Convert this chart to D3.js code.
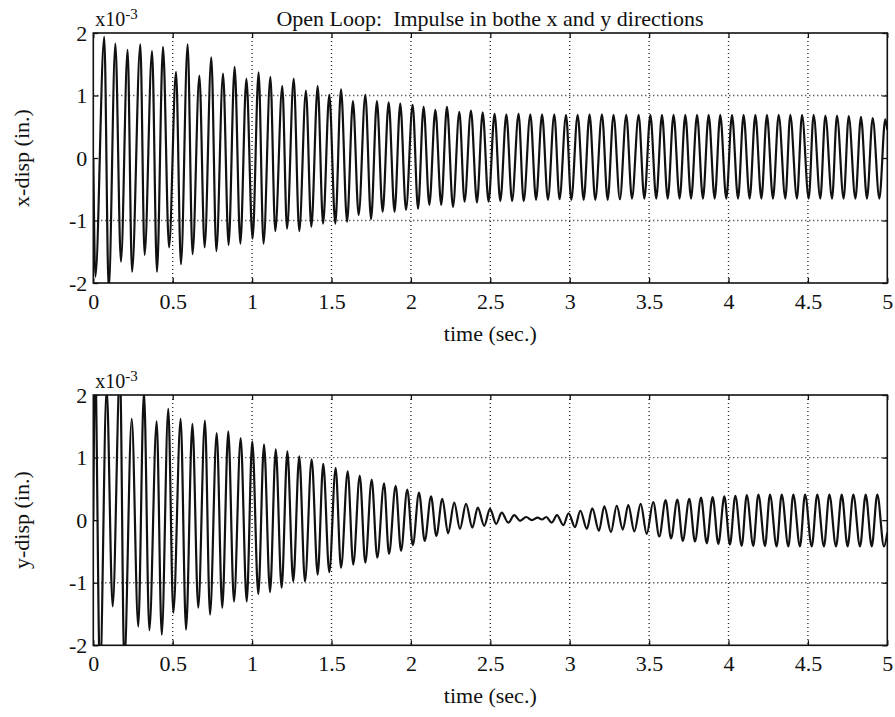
<!DOCTYPE html>
<html>
<head>
<meta charset="utf-8">
<script src="https://cdn.jsdelivr.net/npm/d3@7"></script>
<style>
  body { margin: 0; background: #fff; }
  svg { display: block; font-family: "Liberation Serif", "Times New Roman", serif; }
</style>
</head>
<body>
<svg id="chart" width="895" height="717"></svg>
<script>
// tick values and labels
const timeTicks = [0, 0.5, 1, 1.5, 2, 2.5, 3, 3.5, 4, 4.5, 5];
const dispTicks = [-2, -1, 0, 1, 2];
const chartTitle = "Open Loop:  Impulse in bothe x and y directions";
const timeLabel = "time (sec.)";

// signal extrema: [time (s), displacement (x10^-3 in.)]
const xDispPeaks = [
  [0.000, 0.00], [0.013, -1.90], [0.069, 1.94], [0.097, -2.10], [0.139, 1.83], [0.174, -1.66],
  [0.216, 1.73], [0.244, -1.82], [0.296, 1.82], [0.323, -1.55], [0.370, 1.71], [0.401, -1.82],
  [0.439, 1.78], [0.477, -1.43], [0.521, 1.38], [0.552, -1.70], [0.594, 1.82], [0.625, -1.54],
  [0.668, 1.32], [0.701, -1.43], [0.743, 1.61], [0.775, -1.49], [0.817, 1.35], [0.852, -1.39],
  [0.890, 1.46], [0.926, -1.37], [0.964, 1.27], [1.003, -1.29], [1.041, 1.37], [1.072, -1.37],
  [1.115, 1.30], [1.146, -1.17], [1.190, 1.15], [1.220, -1.13], [1.262, 1.27], [1.297, -1.17],
  [1.339, 1.08], [1.373, -1.10], [1.413, 1.15], [1.447, -1.05], [1.486, 1.01], [1.524, -1.05],
  [1.560, 1.10], [1.598, -1.02], [1.635, 0.91], [1.671, -0.91], [1.713, 1.01], [1.749, -0.98],
  [1.786, 0.91], [1.822, -0.86], [1.860, 0.89], [1.897, -0.86], [1.933, 0.87], [1.969, -0.83],
  [2.011, 0.85], [2.045, -0.81], [2.080, 0.82], [2.116, -0.75], [2.154, 0.77], [2.191, -0.75],
  [2.227, 0.82], [2.265, -0.78], [2.305, 0.74], [2.338, -0.70], [2.378, 0.76], [2.416, -0.71],
  [2.452, 0.73], [2.489, -0.70], [2.527, 0.71], [2.563, -0.69], [2.601, 0.70], [2.637, -0.69],
  [2.678, 0.71], [2.710, -0.69], [2.752, 0.70], [2.788, -0.67], [2.826, 0.70], [2.863, -0.67],
  [2.903, 0.70], [2.936, -0.66], [2.977, 0.69], [3.010, -0.67], [3.050, 0.69], [3.088, -0.67],
  [3.125, 0.70], [3.161, -0.67], [3.203, 0.70], [3.239, -0.67], [3.276, 0.69], [3.316, -0.66],
  [3.356, 0.69], [3.392, -0.65], [3.434, 0.69], [3.470, -0.65], [3.508, 0.69], [3.545, -0.65],
  [3.581, 0.69], [3.617, -0.65], [3.654, 0.69], [3.692, -0.65], [3.728, 0.69], [3.764, -0.65],
  [3.802, 0.69], [3.839, -0.65], [3.875, 0.69], [3.913, -0.65], [3.948, 0.69], [3.986, -0.65],
  [4.022, 0.69], [4.060, -0.65], [4.095, 0.69], [4.133, -0.65], [4.169, 0.69], [4.207, -0.65],
  [4.242, 0.69], [4.280, -0.65], [4.316, 0.69], [4.358, -0.65], [4.389, 0.69], [4.431, -0.65],
  [4.463, 0.69], [4.505, -0.65], [4.536, 0.69], [4.578, -0.65], [4.610, 0.68], [4.652, -0.65],
  [4.683, 0.68], [4.725, -0.65], [4.757, 0.67], [4.799, -0.65], [4.834, 0.66], [4.872, -0.65],
  [4.908, 0.64], [4.950, -0.65], [4.987, 0.62], [5.000, 0.45]
];

const yDispPeaks = [
  [0.000, 0.00], [0.011, 2.60], [0.042, -2.50], [0.084, 2.10], [0.122, -1.38], [0.168, 2.40],
  [0.195, -2.30], [0.242, 1.62], [0.283, -1.70], [0.319, 2.05], [0.353, -1.76], [0.399, 1.58],
  [0.431, -1.83], [0.472, 1.78], [0.504, -1.48], [0.550, 1.62], [0.584, -1.75], [0.624, 1.54],
  [0.661, -1.40], [0.703, 1.59], [0.735, -1.51], [0.777, 1.39], [0.812, -1.40], [0.850, 1.42],
  [0.886, -1.30], [0.928, 1.31], [0.966, -1.30], [1.001, 1.26], [1.039, -1.18], [1.075, 1.21],
  [1.113, -1.15], [1.149, 1.13], [1.186, -1.08], [1.222, 1.10], [1.259, -0.98], [1.297, 1.02],
  [1.333, -0.98], [1.375, 0.97], [1.413, -0.87], [1.448, 0.90], [1.486, -0.83], [1.526, 0.83],
  [1.560, -0.76], [1.602, 0.78], [1.637, -0.71], [1.678, 0.71], [1.713, -0.68], [1.753, 0.65],
  [1.788, -0.60], [1.831, 0.59], [1.862, -0.54], [1.904, 0.55], [1.938, -0.49], [1.977, 0.49],
  [2.012, -0.40], [2.051, 0.44], [2.087, -0.33], [2.127, 0.38], [2.160, -0.25], [2.198, 0.34],
  [2.234, -0.21], [2.273, 0.28], [2.309, -0.14], [2.347, 0.26], [2.387, -0.12], [2.421, 0.20],
  [2.462, -0.09], [2.498, 0.18], [2.537, -0.06], [2.572, 0.12], [2.613, -0.04], [2.651, 0.08],
  [2.687, -0.01], [2.726, 0.05], [2.762, 0.00], [2.798, 0.04], [2.826, 0.01], [2.852, 0.05],
  [2.887, -0.04], [2.920, 0.08], [2.960, -0.08], [2.993, 0.11], [3.033, -0.11], [3.067, 0.15],
  [3.108, -0.14], [3.142, 0.19], [3.184, -0.17], [3.218, 0.22], [3.260, -0.19], [3.296, 0.23],
  [3.334, -0.15], [3.369, 0.24], [3.407, -0.18], [3.447, 0.26], [3.485, -0.22], [3.526, 0.29],
  [3.564, -0.26], [3.604, 0.32], [3.638, -0.29], [3.678, 0.33], [3.712, -0.33], [3.753, 0.34],
  [3.789, -0.34], [3.827, 0.36], [3.863, -0.37], [3.900, 0.37], [3.936, -0.38], [3.974, 0.38],
  [4.009, -0.39], [4.043, 0.39], [4.083, -0.41], [4.115, 0.40], [4.156, -0.41], [4.188, 0.41],
  [4.230, -0.41], [4.261, 0.41], [4.303, -0.42], [4.335, 0.41], [4.377, -0.42], [4.408, 0.41],
  [4.450, -0.42], [4.482, 0.41], [4.524, -0.42], [4.559, 0.41], [4.601, -0.42], [4.635, 0.41],
  [4.677, -0.42], [4.713, 0.41], [4.750, -0.42], [4.786, 0.41], [4.828, -0.42], [4.864, 0.41],
  [4.902, -0.42], [4.937, 0.41], [4.979, -0.42], [5.000, -0.20]
];

class SignalPlot {

  constructor(_config, _data) {
    this.config = {
      parentElement: _config.parentElement,
      id: _config.id,
      left: _config.left,
      top: _config.top,
      width: _config.width,
      height: _config.height,
      yLabel: _config.yLabel,
      fontSize: 22
    }
    this.data = _data;
    this.initVis();
  }

  initVis() {
    let vis = this;
    const c = vis.config;

    vis.svg = d3.select(c.parentElement);
    vis.g = vis.svg.append("g")
        .attr("transform", `translate(${c.left},${c.top})`);

    vis.x = d3.scaleLinear().domain([0, 5]).range([0, c.width]);
    vis.y = d3.scaleLinear().domain([-2, 2]).range([c.height, 0]);

    vis.svg.append("clipPath").attr("id", c.id + "-clip")
      .append("rect")
        .attr("width", c.width)
        .attr("height", c.height);

    this.updateVis();
  }

  updateVis() {
    let vis = this;
    const c = vis.config;

    // dotted grid (MATLAB "grid on"), only inner lines show on the scan
    vis.g.append("g")
        .selectAll("line")
        .data(timeTicks.filter(d => d > 0 && d < 5))
        .join("line")
          .attr("x1", d => vis.x(d)).attr("x2", d => vis.x(d))
          .attr("y1", 0).attr("y2", c.height)
          .attr("stroke", "#222")
          .attr("stroke-width", 1.3)
          .attr("stroke-dasharray", "1,3");

    vis.g.append("g")
        .selectAll("line")
        .data(dispTicks.filter(d => Math.abs(d) == 1))
        .join("line")
          .attr("x1", 0).attr("x2", c.width)
          .attr("y1", d => vis.y(d)).attr("y2", d => vis.y(d))
          .attr("stroke", "#222")
          .attr("stroke-width", 1.3)
          .attr("stroke-dasharray", "1,3");

    // the signal
    const line = d3.line()
        .x(d => vis.x(d[0]))
        .y(d => vis.y(d[1]))
        .curve(d3.curveMonotoneX);

    vis.g.append("path")
        .datum(vis.data)
        .attr("clip-path", `url(#${c.id}-clip)`)
        .attr("fill", "none")
        .attr("stroke", "#111")
        .attr("stroke-width", 2.2)
        .attr("stroke-linejoin", "round")
        .attr("d", line);

    // axes with inward ticks on all four sides
    const styleAxis = g => {
      g.attr("font-size", c.fontSize).attr("font-family", null);
      g.select(".domain").remove();
      g.selectAll("line").attr("stroke", "#111").attr("stroke-width", 1.3);
      g.selectAll("text").attr("fill", "#111");
    };

    vis.g.append("g")
        .attr("transform", `translate(0,${c.height})`)
        .call(d3.axisBottom(vis.x).tickValues(timeTicks).tickSize(-5).tickPadding(10)
          .tickFormat(d => String(d)))
        .call(styleAxis);

    vis.g.append("g")
        .call(d3.axisTop(vis.x).tickValues(timeTicks).tickSize(-5).tickFormat(""))
        .call(styleAxis);

    vis.g.append("g")
        .call(d3.axisLeft(vis.y).tickValues(dispTicks).tickSize(-5).tickPadding(6)
          .tickFormat(d => String(d)))
        .call(styleAxis);

    vis.g.append("g")
        .attr("transform", `translate(${c.width},0)`)
        .call(d3.axisRight(vis.y).tickValues(dispTicks).tickSize(-5).tickFormat(""))
        .call(styleAxis);

    // box
    vis.g.append("rect")
        .attr("width", c.width)
        .attr("height", c.height)
        .attr("fill", "none")
        .attr("stroke", "#111")
        .attr("stroke-width", 1.6);

    // exponent label
    const expo = vis.g.append("text")
        .attr("x", 2)
        .attr("y", -7)
        .attr("font-size", 20)
        .attr("fill", "#111")
        .text("x10");
    expo.append("tspan")
        .attr("dy", -7)
        .attr("font-size", 15)
        .text("-3");

    // axis titles
    vis.g.append("text")
        .attr("x", c.width / 2)
        .attr("y", c.height + 58)
        .attr("text-anchor", "middle")
        .attr("font-size", c.fontSize)
        .attr("fill", "#111")
        .text(timeLabel);

    vis.g.append("text")
        .attr("transform", `translate(-64,${c.height / 2}) rotate(-90)`)
        .attr("text-anchor", "middle")
        .attr("font-size", c.fontSize)
        .attr("fill", "#111")
        .text(c.yLabel);
  }
}

const svg = d3.select("#chart");

svg.append("text")
    .attr("x", 490)
    .attr("y", 26)
    .attr("text-anchor", "middle")
    .attr("font-size", 22)
    .attr("fill", "#111")
    .style("white-space", "pre")
    .text(chartTitle);

new SignalPlot({ parentElement: "#chart", id: "xplot", left: 93.3, top: 33, width: 794, height: 250,
  yLabel: "x-disp (in.)" }, xDispPeaks);
new SignalPlot({ parentElement: "#chart", id: "yplot", left: 93.3, top: 395, width: 794, height: 250.3,
  yLabel: "y-disp (in.)" }, yDispPeaks);
</script>
</body>
</html>
